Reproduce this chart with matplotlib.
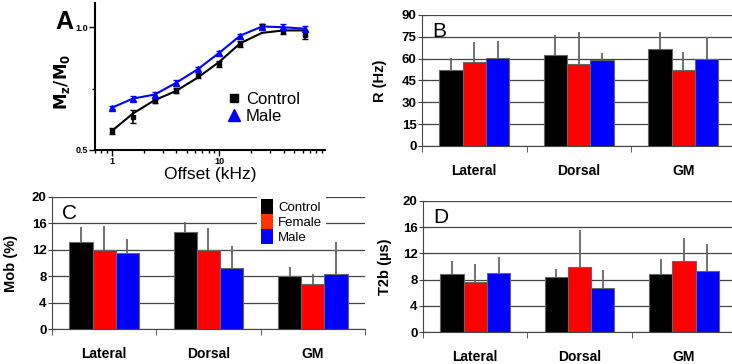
import matplotlib
matplotlib.use('Agg')
import matplotlib.pyplot as plt
from matplotlib.lines import Line2D
from matplotlib.patches import Patch
import numpy as np

plt.rcParams['font.family'] = ['Liberation Sans', 'DejaVu Sans']

# Panel A: Mz/M0 vs offset frequency
offset_khz = [1.0, 1.58, 2.51, 3.98, 6.31, 10.0, 15.8, 25.1, 39.8, 63.1]
control_mz = [0.577, 0.636, 0.700, 0.741, 0.805, 0.850, 0.934, 1.005, 0.984, 0.970]
control_err = [0.012, 0.027, 0.010, 0.010, 0.012, 0.013, 0.012, 0.010, 0.010, 0.016]
control_fit = [0.577, 0.649, 0.703, 0.741, 0.795, 0.859, 0.936, 0.978, 0.988, 0.988]
male_mz = [0.672, 0.710, 0.726, 0.774, 0.829, 0.896, 0.967, 1.004, 1.001, 0.995]
male_err = [0.006, 0.012, 0.010, 0.011, 0.010, 0.010, 0.008, 0.010, 0.012, 0.010]

# Panels B-D: bar charts per region
regions = ['Lateral', 'Dorsal', 'GM']
groups = ['Control', 'Female', 'Male']

r_control = [52.1, 62.4, 66.6]
r_control_sd = [8.0, 13.6, 11.4]
r_female = [57.6, 56.0, 52.3]
r_female_sd = [13.6, 22.0, 12.4]
r_male = [60.1, 58.8, 59.7]
r_male_sd = [12.0, 5.2, 15.1]

mob_control = [13.1, 14.7, 8.0]
mob_control_sd = [2.4, 1.5, 1.45]
mob_female = [11.9, 11.9, 6.9]
mob_female_sd = [3.7, 3.4, 1.4]
mob_male = [11.5, 9.25, 8.4]
mob_male_sd = [2.1, 3.35, 4.7]

t2b_control = [8.8, 8.4, 8.86]
t2b_control_sd = [2.1, 1.2, 2.25]
t2b_female = [7.6, 9.9, 10.9]
t2b_female_sd = [2.8, 5.7, 3.5]
t2b_male = [8.96, 6.7, 9.27]
t2b_male_sd = [2.45, 2.7, 4.1]

bar_colors = ['black', '#ff0000', '#0000ff']

fig = plt.figure(figsize=(7.32, 3.64), dpi=100)

# ---- panel A
axA = fig.add_axes([0.1298, 0.588, 0.3142, 0.4038])
axA.plot(offset_khz, control_fit, color='black', lw=1.5, zorder=2)
axA.errorbar(offset_khz, control_mz, yerr=control_err, fmt='s', color='black',
             ms=3.5, capsize=2, elinewidth=1.2, zorder=3)
axA.plot(offset_khz, male_mz, color='#0000ff', lw=1.5, zorder=2)
axA.errorbar(offset_khz, male_mz, yerr=male_err, fmt='^', color='#0000ff',
             ms=4.5, capsize=2, elinewidth=1.2, zorder=3)
axA.set_xscale('log')
axA.set_xlim(0.70, 97)
axA.set_ylim(0.5, 1.1)
axA.set_yticks([0.5, 1.0], ['0.5', '1.0'])
axA.set_yticks([0.75], minor=True)
axA.set_xticks([1, 10], ['1', '10'])
for s in ['top', 'right']:
    axA.spines[s].set_visible(False)
for s in ['left', 'bottom']:
    axA.spines[s].set_linewidth(1.5)
axA.tick_params(which='both', direction='out', labelsize=6.5, width=1)
axA.tick_params(which='major', length=4, pad=1)
axA.tick_params(which='minor', length=2.5)
for lab in axA.get_xticklabels() + axA.get_yticklabels():
    lab.set_fontweight('bold')
axA.set_xlabel('Offset (kHz)', fontsize=12.5, labelpad=1)
axA.set_ylabel(r'$\mathbf{M_z/M_0}$', fontsize=12)
axA.yaxis.set_label_coords(-0.1, 0.46)
handlesA = [Line2D([], [], marker='s', color='black', ls='none', ms=6),
            Line2D([], [], marker='^', color='#0000ff', ls='none', ms=9)]
axA.legend(handlesA, ['Control', 'Male'], loc='upper left', bbox_to_anchor=(0.54, 0.45),
           frameon=False, fontsize=12, handlelength=0.8, handletextpad=0.3,
           labelspacing=0.1, borderpad=0)
fig.text(55 / 732, 1 - 29 / 364, 'A', fontsize=18, fontweight='bold')


def bar_panel(rect, ctrl, ctrl_sd, fem, fem_sd, male, male_sd, ymax, step, ylabel, letter, lab_x):
    ax = fig.add_axes(rect)
    x = np.arange(len(regions))
    w = 0.223
    vals = [ctrl, fem, male]
    sds = [ctrl_sd, fem_sd, male_sd]
    for i in range(3):
        xi = x + (i - 1) * w
        ax.bar(xi, vals[i], width=w, color=bar_colors[i], edgecolor='#666666', lw=0.8, zorder=3)
        ax.errorbar(xi, vals[i], yerr=[np.zeros(3), sds[i]], fmt='none', ecolor='#666666',
                    elinewidth=1.3, capsize=0, zorder=2)
    ax.set_xlim(-0.5, 2.5)
    ax.set_ylim(0, ymax)
    ax.set_yticks(np.arange(0, ymax + 0.1, step))
    ax.yaxis.grid(True, color='#444444', lw=0.9)
    ax.set_axisbelow(True)
    ax.set_xticks(x, regions)
    ax.set_xticks([-0.5, 0.5, 1.5, 2.5], minor=True)
    ax.tick_params(axis='x', which='major', length=0, pad=13, labelsize=10)
    ax.tick_params(axis='x', which='minor', length=4, direction='out', color='#444444')
    ax.tick_params(axis='y', direction='inout', length=6, labelsize=9.5, pad=1, color='#444444')
    for lab in ax.get_xticklabels() + ax.get_yticklabels():
        lab.set_fontweight('bold')
    for s in ['top', 'right']:
        ax.spines[s].set_visible(False)
    ax.spines['left'].set_color('#444444')
    ax.spines['bottom'].set_color('#444444')
    ax.set_ylabel(ylabel, fontsize=10.5, fontweight='bold')
    ax.yaxis.set_label_coords(lab_x, 0.5)
    ax.text(0.033, 0.83, letter, transform=ax.transAxes, fontsize=15)
    return ax


axB = bar_panel([0.5765, 0.599, 0.4283, 0.3599], r_control, r_control_sd, r_female, r_female_sd,
                r_male, r_male_sd, 90, 15, 'R (Hz)', 'B', -0.112)
axC = bar_panel([0.071, 0.0953, 0.4276, 0.3643], mob_control, mob_control_sd, mob_female,
                mob_female_sd, mob_male, mob_male_sd, 20, 4, 'Mob (%)', 'C', -0.109)
axD = bar_panel([0.578, 0.0871, 0.4276, 0.3615], t2b_control, t2b_control_sd, t2b_female,
                t2b_female_sd, t2b_male, t2b_male_sd, 20, 4, 'T2b (µs)', 'D', -0.099)

handlesC = [Patch(facecolor='black'), Patch(facecolor='#ff3300'), Patch(facecolor='#0000ff')]
legC = axC.legend(handlesC, groups, loc='upper left', bbox_to_anchor=(0.655, 1.015),
                  frameon=True, fancybox=False, framealpha=1, edgecolor='none',
                  fontsize=9.5, handlelength=0.9, handleheight=1.4, labelspacing=0,
                  handletextpad=0.4, borderpad=0.3, borderaxespad=0)

fig.savefig('out.png', dpi=100)
